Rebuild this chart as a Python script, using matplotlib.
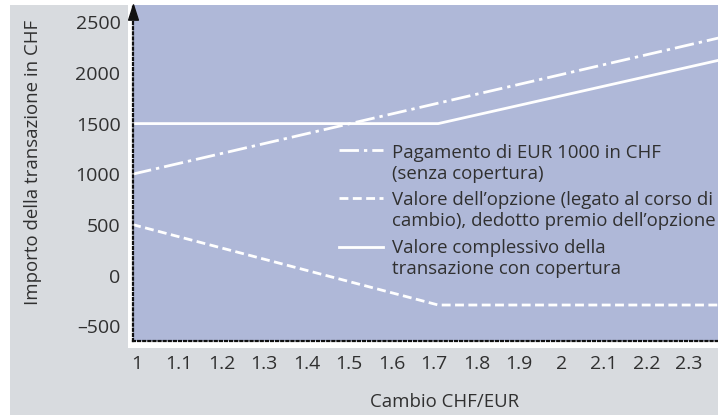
import matplotlib
matplotlib.use("Agg")
import matplotlib.pyplot as plt
from matplotlib.patches import Rectangle
from matplotlib.path import Path

plt.rcParams['font.family'] = ['Open Sans', 'DejaVu Sans']

# ---- data ----
rate_unhedged = [0.99, 2.37]
chf_unhedged = [1000, 2345]

rate_option = [0.99, 1.71, 2.37]
chf_option = [505, -290, -290]

rate_total = [0.99, 1.71, 2.37]
chf_total = [1500, 1500, 2125]

x_ticks = [1.0, 1.1, 1.2, 1.3, 1.4, 1.5, 1.6, 1.7, 1.8, 1.9, 2.0, 2.1, 2.2, 2.3]
x_tick_labels = ['1', '1.1', '1.2', '1.3', '1.4', '1.5', '1.6', '1.7', '1.8', '1.9', '2', '2.1', '2.2', '2.3']
y_ticks = [-500, 0, 500, 1000, 1500, 2000, 2500]
y_tick_labels = ['\u2013500', '0', '500', '1000', '1500', '2000', '2500']

legend_labels = [
    'Pagamento di EUR 1000 in CHF\n(senza copertura)',
    'Valore dell\u2019opzione (legato al corso di\ncambio), dedotto premio dell\u2019opzione',
    'Valore complessivo della\ntransazione con copertura',
]
x_label = 'Cambio CHF/EUR'
y_label = 'Importo della transazione in CHF'

# ---- style ----
GRAY = '#d8dbdf'
BLUE = '#afb8d8'
TXT = '#303030'
FS = 13.4
WT = 'normal'
LW = 2.0
DASHDOT = (0, (7, 1.8, 1.2, 1.8))
DASHED = (0, (3.2, 1.6))

W, H = 718, 417
fig = plt.figure(figsize=(W / 100, H / 100), dpi=100)
fig.patch.set_facecolor('white')
fig.patches.append(Rectangle((10 / W, 2 / H), (W - 10) / W, 410 / H,
                             transform=fig.transFigure, facecolor=GRAY,
                             edgecolor='none', zorder=-3))
fig.patches.append(Rectangle((128 / W, (H - 347.5) / H), (W - 128) / W, 342.5 / H,
                             transform=fig.transFigure, facecolor='white',
                             edgecolor='none', zorder=-2))

ax = fig.add_axes([133 / W, (H - 341) / H, 585 / W, 336 / H])
ax.set_zorder(1)
ax.set_facecolor(BLUE)

ax.plot(rate_unhedged, chf_unhedged, color='white', lw=LW, ls=DASHDOT)
ax.plot(rate_option, chf_option, color='white', lw=LW, ls=DASHED)
ax.plot(rate_total, chf_total, color='white', lw=LW, ls='-')

ax.set_xlim(0.992, 2.368)
ax.set_ylim(-645, 2670)

ax.set_xticks(x_ticks)
ax.set_xticklabels(x_tick_labels, fontweight=WT)
ax.set_yticks(y_ticks)
ax.set_yticklabels(y_tick_labels, fontweight=WT)
ax.tick_params(axis='both', length=0, labelsize=14, colors=TXT)
ax.tick_params(axis='x', pad=10)
ax.tick_params(axis='y', pad=9)

for s in ['top', 'right']:
    ax.spines[s].set_visible(False)
for s in ['left', 'bottom']:
    ax.spines[s].set_color('#111111')
    ax.spines[s].set_linewidth(1.6)
    ax.spines[s].set_linestyle((0, (0.9, 1.4)))

# arrowhead on the y axis
arrow = Path([(-0.32, -0.5), (0, 0.5), (0.32, -0.5), (-0.32, -0.5)],
             [Path.MOVETO, Path.LINETO, Path.LINETO, Path.CLOSEPOLY])
ax.plot([0], [(341 - 11.5) / 336], marker=arrow, ms=11, color='#111111',
        transform=ax.transAxes, clip_on=False, zorder=5)

ax.set_xlabel(x_label, fontsize=FS, color=TXT, fontweight=WT)
ax.xaxis.set_label_coords((445 - 133) / 585, (341 - 402) / 336)
ax.xaxis.label.set_va('center')
ax.set_ylabel(y_label, fontsize=FS, color=TXT, fontweight=WT)
ax.yaxis.set_label_coords((33 - 133) / 585, (341 - 162) / 336)
ax.yaxis.label.set_va('center')

# legend drawn manually
styles = [DASHDOT, DASHED, '-']
handle_y = [150, 198, 247]
text_y = [163.5, 210.5, 258.5]
for st, hy, ty, lab in zip(styles, handle_y, text_y, legend_labels):
    yy = (341 - hy) / 336
    ax.plot([(339 - 133) / 585, (383 - 133) / 585], [yy, yy], color='white',
            lw=LW, ls=st, transform=ax.transAxes)
    ax.text((392 - 133) / 585, (341 - ty) / 336, lab, transform=ax.transAxes,
            fontsize=FS, color=TXT, va='center', ha='left', linespacing=1.2,
            fontweight=WT, clip_on=False)

fig.savefig('out.png', dpi=100)
